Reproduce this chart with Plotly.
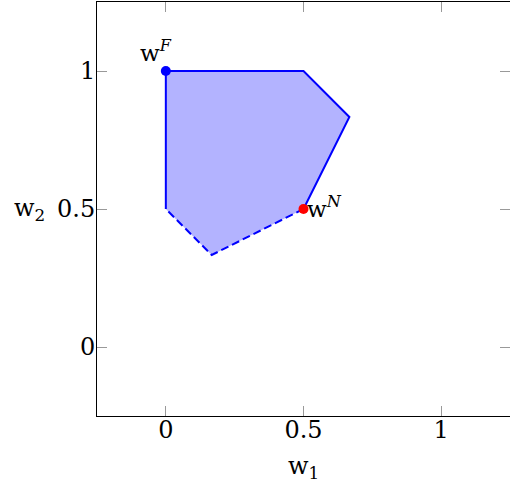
import plotly.graph_objects as go

# polygon vertices (w1, w2)
poly_x = [0, 0.5, 2/3, 0.5, 1/6, 0]
poly_y = [1, 1, 5/6, 0.5, 1/3, 0.5]
# solid boundary
solid_x = [0, 0, 0.5, 2/3, 0.5]
solid_y = [0.5, 1, 1, 5/6, 0.5]
# dashed boundary
dash_x = [0.5, 1/6, 0]
dash_y = [0.5, 1/3, 0.5]
# points
wF = (0, 1)
wN = (0.5, 0.5)
tick_vals = [0, 0.5, 1]
tick_text = ["0", "0.5", "1"]

FONT = "DejaVu Serif"
fig = go.Figure()
fig.add_trace(go.Scatter(x=poly_x, y=poly_y, fill="toself", fillcolor="#b3b3ff",
                         mode="none", hoverinfo="skip"))
fig.add_trace(go.Scatter(x=solid_x, y=solid_y, mode="lines",
                         line=dict(color="#0000ff", width=2)))
fig.add_trace(go.Scatter(x=dash_x, y=dash_y, mode="lines",
                         line=dict(color="#0000ff", width=2, dash="8px,4px")))
fig.add_trace(go.Scatter(x=[wF[0]], y=[wF[1]], mode="markers",
                         marker=dict(color="#0000ff", size=10)))
fig.add_trace(go.Scatter(x=[wN[0]], y=[wN[1]], mode="markers",
                         marker=dict(color="#ff0000", size=10)))

fig.add_annotation(x=wF[0], y=wF[1], text="w<sup><i>F</i></sup>", showarrow=False,
                   xanchor="right", yanchor="bottom", xshift=8, yshift=3,
                   font=dict(family=FONT, size=23, color="black"))
fig.add_annotation(x=wN[0], y=wN[1], text="w<sup><i>N</i></sup>", showarrow=False,
                   xanchor="left", yanchor="middle", xshift=1, yshift=2,
                   font=dict(family=FONT, size=23, color="black"))
fig.add_annotation(xref="paper", yref="paper", x=0.5, y=0, yshift=-51,
                   text="w<sub>1</sub>", showarrow=False, xanchor="center", yanchor="middle",
                   font=dict(family=FONT, size=24, color="black"))
fig.add_annotation(xref="paper", yref="y", x=0, y=0.5, xshift=-68,
                   text="w<sub>2</sub>", showarrow=False, xanchor="center", yanchor="middle",
                   font=dict(family=FONT, size=24, color="black"))

axis_common = dict(showgrid=False, zeroline=False, showline=True, linecolor="black",
                   linewidth=1, mirror="ticks", ticks="inside", ticklen=10, tickwidth=1,
                   tickcolor="#999999", tickvals=tick_vals, ticktext=tick_text,
                   tickfont=dict(family=FONT, size=24, color="black"))
fig.update_xaxes(range=[-0.25, 1.25], ticklabelstandoff=-8, **axis_common)
fig.update_yaxes(range=[-0.25, 1.25], ticklabelstandoff=-4, **axis_common)
fig.update_layout(width=510, height=483, showlegend=False,
                  margin=dict(l=97, r=0, t=2, b=67),
                  plot_bgcolor="white", paper_bgcolor="white")
fig.write_html("out.html", config={"displayModeBar": False},
               post_script="document.body.style.margin='0px';document.body.style.overflow='hidden';")
